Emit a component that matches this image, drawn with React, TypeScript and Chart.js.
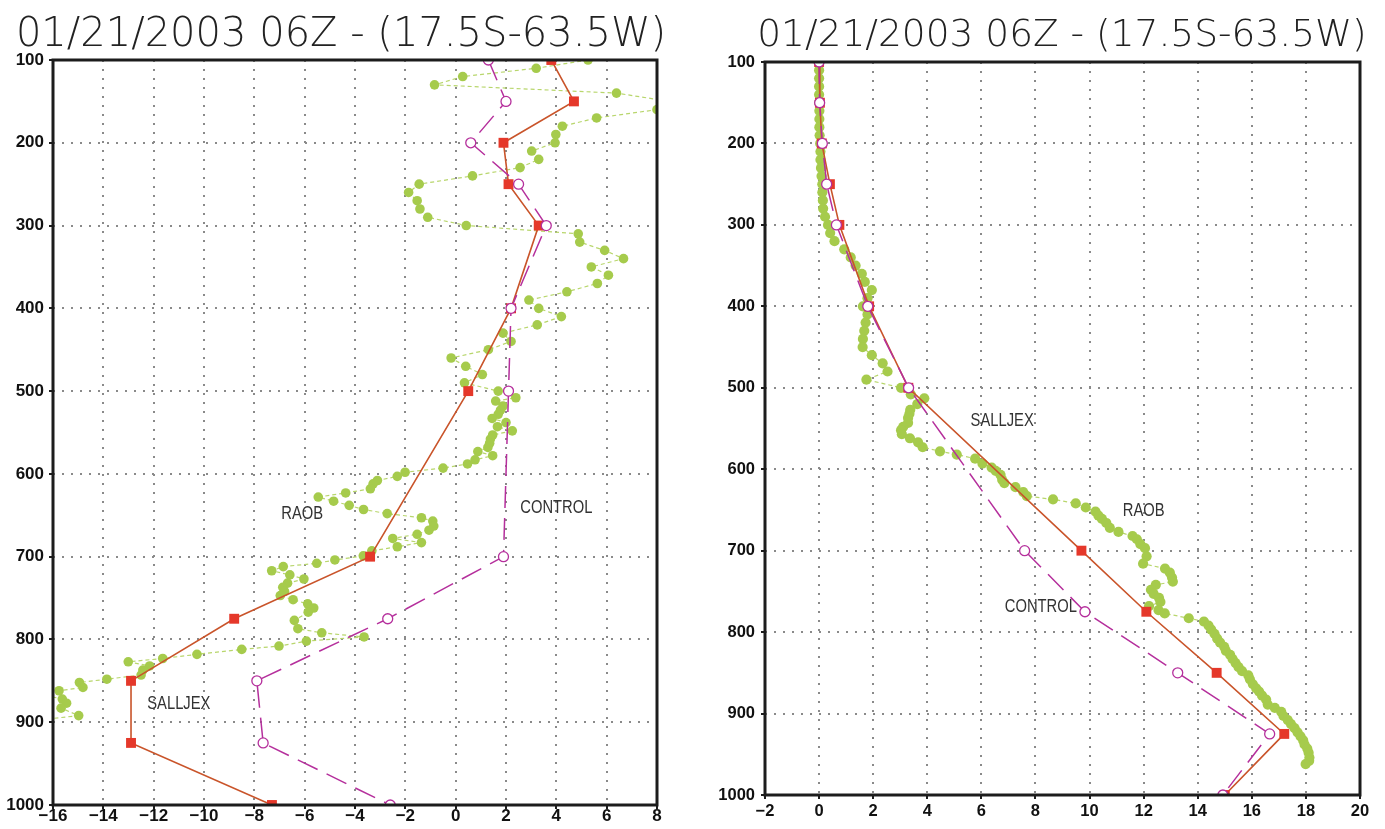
import React, { useEffect, useRef } from 'react';
import { Chart, registerables } from 'chart.js';

Chart.register(...registerables);

// ---------------- data ----------------
const titleText = '01/21/2003 06Z - (17.5S-63.5W)';

const pressureLevels = [100, 150, 200, 250, 300, 400, 500, 700, 775, 850, 925, 1000];

// left panel
const leftSalljex = [3.8, 4.7, 1.9, 2.1, 3.3, 2.2, 0.5, -3.4, -8.8, -12.9, -12.9, -7.3];
const leftControl = [1.3, 2.0, 0.6, 2.5, 3.6, 2.2, 2.1, 1.9, -2.7, -7.9, -7.65, -2.6];
const leftRaob: [number, number][] = [
  [100, 5.26], [110, 3.2], [120, 0.28], [130, -0.84], [140, 6.39], [150, 8.5], [160, 8.0], [170, 5.6],
  [180, 4.24], [190, 3.98], [200, 3.95], [210, 3.02], [220, 3.3], [230, 2.56], [240, 0.67], [250, -1.45],
  [260, -1.87], [270, -1.53], [280, -1.42], [290, -1.11], [300, 0.42], [310, 4.87], [320, 4.93], [330, 5.92],
  [340, 6.67], [350, 5.39], [360, 6.07], [370, 5.63], [380, 4.42], [390, 2.91], [400, 3.3], [410, 4.2],
  [420, 3.24], [430, 1.88], [440, 2.2], [450, 1.3], [460, -0.18], [470, 0.4], [480, 1.06], [490, 0.35],
  [500, 1.69], [508, 2.39], [512, 1.59], [518, 1.88], [523, 1.78], [528, 1.69], [533, 1.45], [538, 2.0],
  [543, 1.66], [548, 2.25], [553, 1.47], [558, 1.38], [563, 1.35], [568, 1.28], [573, 0.88], [578, 1.47],
  [583, 0.77], [588, 0.47], [593, -0.5], [598, -2.01], [603, -2.32], [608, -3.11], [612, -3.28], [618, -3.39],
  [623, -4.37], [628, -5.46], [633, -4.85], [638, -4.23], [643, -3.66], [648, -2.72], [653, -1.36], [657, -0.91],
  [663, -0.87], [668, -1.06], [673, -1.53], [678, -2.5], [683, -1.36], [688, -2.32], [693, -3.33], [699, -3.67],
  [704, -4.8], [708, -5.52], [712, -6.85], [717, -7.31], [722, -6.59], [727, -6.03], [732, -6.68], [737, -6.87],
  [742, -6.8], [747, -6.97], [752, -6.46], [757, -5.88], [762, -5.64], [767, -5.86], [777, -6.41], [787, -6.27],
  [792, -5.32], [797, -3.64], [802, -5.93], [808, -7.02], [812, -8.5], [818, -10.28], [823, -11.64], [827, -13.01],
  [832, -12.16], [837, -12.43], [843, -12.5], [848, -13.86], [852, -14.95], [858, -14.81], [862, -15.76], [867, -16.4],
  [872, -15.63], [877, -15.46], [883, -15.68], [892, -14.98], [898, -16.8], [915, -16.3], [935, -16.5], [950, -17.5],
];
const leftXTicks = { min: -16, max: 8, step: 2 };
const leftLabels = [
  { text: 'RAOB', x: -6.1, y: 648 },
  { text: 'CONTROL', x: 4.0, y: 641 },
  { text: 'SALLJEX', x: -11.0, y: 878 },
];

// right panel
const rightSalljex = [0.0, 0.03, 0.1, 0.4, 0.75, 1.85, 3.3, 9.7, 12.1, 14.7, 17.2, 15.0];
const rightControl = [0.0, 0.02, 0.12, 0.28, 0.64, 1.8, 3.31, 7.6, 9.83, 13.26, 16.66, 14.93];
const rightRaob: [number, number][] = [
  [100, 0], [110, 0], [120, 0], [130, 0], [140, 0], [150, 0], [160, 0.01], [170, 0.01], [180, 0.01], [190, 0.02],
  [200, 0.04], [210, 0.05], [220, 0.05], [230, 0.07], [240, 0.09], [250, 0.12], [260, 0.12], [270, 0.14],
  [280, 0.15], [290, 0.22], [300, 0.33], [310, 0.41], [320, 0.57], [330, 0.93], [340, 1.17], [350, 1.35],
  [360, 1.58], [370, 1.69], [380, 1.95], [390, 1.79], [400, 1.62], [410, 1.79], [420, 1.72], [430, 1.67],
  [440, 1.62], [450, 1.61], [460, 1.95], [470, 2.35], [480, 2.53], [490, 1.75], [500, 3.03], [508, 3.39],
  [513, 3.89], [520, 3.63], [527, 3.37], [532, 3.34], [537, 3.29], [543, 3.29], [548, 3.11], [552, 3.03],
  [557, 3.06], [562, 3.36], [567, 3.66], [573, 3.83], [578, 4.47], [582, 5.09], [587, 5.77], [593, 6.04],
  [598, 6.38], [602, 6.53], [607, 6.71], [613, 6.77], [617, 6.85], [622, 7.26], [628, 7.55], [633, 7.68],
  [637, 8.65], [642, 9.49], [647, 9.86], [652, 10.22], [657, 10.33], [661, 10.46], [666, 10.62], [672, 10.75],
  [677, 11.07], [682, 11.59], [686, 11.75], [692, 11.88], [697, 12.05], [707, 12.11], [716, 11.98], [722, 12.79],
  [727, 12.97], [733, 13.05], [738, 13.08], [742, 12.45], [748, 12.27], [753, 12.37], [758, 12.57], [763, 12.62],
  [768, 12.2], [773, 12.55], [777, 12.78], [783, 13.67], [787, 14.23], [792, 14.4], [797, 14.5], [802, 14.62],
  [808, 14.72], [813, 14.83], [818, 14.98], [823, 15.04], [828, 15.2], [833, 15.29], [838, 15.4], [843, 15.51],
  [848, 15.64], [853, 15.87], [858, 15.93], [864, 16.04], [869, 16.16], [873, 16.27], [878, 16.38], [883, 16.53],
  [889, 16.59], [893, 16.85], [898, 17.09], [903, 17.17], [908, 17.33], [913, 17.45], [918, 17.58], [923, 17.69],
  [928, 17.8], [933, 17.9], [938, 17.95], [943, 18.05], [948, 18.1], [954, 18.13], [958, 18.12], [962, 17.99],
];
const rightXTicks = { min: -2, max: 20, step: 2 };
const rightLabels = [
  { text: 'SALLJEX', x: 6.77, y: 541 },
  { text: 'RAOB', x: 12.0, y: 651 },
  { text: 'CONTROL', x: 8.2, y: 769 },
];

const yTicks = { min: 100, max: 1000, step: 100 };

// ---------------- styles ----------------
const GREEN_PT = '#a6cb4c';
const GREEN_LN = '#b8d66c';
const RED_PT = '#e5382a';
const RED_LN = '#c9542a';
const MAGENTA = '#b52f9c';
const TICK_FONT = "'Liberation Sans', Arial, sans-serif";
const LABEL_FONT = "18px 'Liberation Sans', Arial, sans-serif";

type Panel = {
  salljex: number[];
  control: number[];
  raob: [number, number][];
  xr: { min: number; max: number; step: number };
  labels: { text: string; x: number; y: number }[];
  canvasW: number;
  pad: { top: number; right: number; bottom: number; left: number };
  yWidth: number;
  xHeight: number;
  yPad: number;
  xPad: number;
  dotR: number;
  tickSize: number;
};

function makeConfig(p: Panel): any {
  const framePlugin = {
    id: 'frame',
    afterDraw(chart: any) {
      const { ctx, chartArea: a } = chart;
      ctx.save();
      ctx.strokeStyle = '#1c1c1c';
      ctx.lineWidth = 3;
      ctx.strokeRect(a.left, a.top, a.right - a.left, a.bottom - a.top);
      ctx.restore();
    },
  };
  const labelPlugin = {
    id: 'profileLabels',
    afterDatasetsDraw(chart: any) {
      const { ctx } = chart;
      const xs = chart.scales.x;
      const ys = chart.scales.y;
      p.labels.forEach((l) => {
        const px = xs.getPixelForValue(l.x);
        const py = ys.getPixelForValue(l.y);
        ctx.save();
        ctx.translate(px, py);
        ctx.scale(0.82, 1);
        ctx.font = LABEL_FONT;
        ctx.fillStyle = '#333333';
        ctx.textAlign = 'center';
        ctx.textBaseline = 'middle';
        ctx.fillText(l.text, 0, 0);
        ctx.restore();
      });
    },
  };
  const grid = {
    color: '#8a8a8a',
    lineWidth: 2,
    drawTicks: true,
    tickLength: 4,
    tickColor: '#1c1c1c',
    tickWidth: 2,
  };
  const border = { display: false, dash: [2, 7] };
  return {
    type: 'scatter',
    data: {
      datasets: [
        {
          label: 'CONTROL',
          data: pressureLevels.map((pr, i) => ({ x: p.control[i], y: pr })),
          showLine: true,
          borderColor: MAGENTA,
          borderWidth: 1.5,
          borderDash: [22, 10],
          pointStyle: 'circle',
          pointRadius: 5,
          pointBackgroundColor: '#ffffff',
          pointBorderColor: MAGENTA,
          pointBorderWidth: 1.3,
          order: 0,
        },
        {
          label: 'SALLJEX',
          data: pressureLevels.map((pr, i) => ({ x: p.salljex[i], y: pr })),
          showLine: true,
          borderColor: RED_LN,
          borderWidth: 1.6,
          pointStyle: 'rect',
          pointRadius: 7,
          pointBackgroundColor: RED_PT,
          pointBorderColor: RED_PT,
          pointBorderWidth: 0,
          order: 1,
        },
        {
          label: 'RAOB',
          data: p.raob.map(([pr, v]) => ({ x: v, y: pr })),
          showLine: true,
          borderColor: GREEN_LN,
          borderWidth: 1.2,
          borderDash: [4, 3],
          pointStyle: 'circle',
          pointRadius: p.dotR,
          pointBackgroundColor: GREEN_PT,
          pointBorderWidth: 0,
          order: 2,
        },
      ],
    },
    options: {
      animation: false,
      responsive: false,
      maintainAspectRatio: false,
      events: [],
      layout: { padding: p.pad },
      plugins: { legend: { display: false }, tooltip: { enabled: false }, title: { display: false } },
      scales: {
        x: {
          type: 'linear',
          min: p.xr.min,
          max: p.xr.max,
          ticks: {
            stepSize: p.xr.step,
            color: '#111',
            padding: p.xPad,
            maxRotation: 0,
            font: { family: TICK_FONT, size: p.tickSize, weight: 'bold' },
            callback: (v: number) => String(v).replace('-', '\u2212'),
          },
          grid,
          border,
          afterFit: (s: any) => {
            s.height = p.xHeight;
          },
        },
        y: {
          type: 'linear',
          reverse: true,
          min: yTicks.min,
          max: yTicks.max,
          ticks: {
            stepSize: yTicks.step,
            color: '#111',
            padding: p.yPad,
            font: { family: TICK_FONT, size: p.tickSize, weight: 'bold' },
            callback: (v: number) => String(v),
          },
          grid,
          border,
          afterFit: (s: any) => {
            s.width = p.yWidth;
          },
        },
      },
    },
    plugins: [framePlugin, labelPlugin],
  };
}

const leftPanel: Panel = {
  salljex: leftSalljex,
  control: leftControl,
  raob: leftRaob,
  xr: leftXTicks,
  labels: leftLabels,
  canvasW: 700,
  pad: { top: 60, right: 43, bottom: 0, left: 0 },
  yWidth: 53,
  xHeight: 24,
  yPad: 5,
  xPad: -3,
  dotR: 4.8,
  tickSize: 17,
};

const rightPanel: Panel = {
  salljex: rightSalljex,
  control: rightControl,
  raob: rightRaob,
  xr: rightXTicks,
  labels: rightLabels,
  canvasW: 685,
  pad: { top: 62, right: 25, bottom: 10, left: 0 },
  yWidth: 65,
  xHeight: 24,
  yPad: 6,
  xPad: 3,
  dotR: 5.1,
  tickSize: 16.5,
};

function ProfileChart({ panel, left }: { panel: Panel; left: number }) {
  const ref = useRef<HTMLCanvasElement | null>(null);
  useEffect(() => {
    if (!ref.current) return;
    const chart = new Chart(ref.current, makeConfig(panel));
    return () => chart.destroy();
  }, [panel]);
  return (
    <canvas
      ref={ref}
      width={panel.canvasW}
      height={829}
      style={{ position: 'absolute', left, top: 0, width: panel.canvasW, height: 829 }}
    />
  );
}

const titleStyle: React.CSSProperties = {
  position: 'absolute',
  top: 12,
  height: 40,
  lineHeight: '40px',
  fontFamily: "'DejaVu Sans', sans-serif",
  fontWeight: 200,
  color: '#222',
  whiteSpace: 'nowrap',
  textAlign: 'center',
};

export default function App() {
  return (
    <div
      style={{
        position: 'fixed',
        left: 0,
        top: 0,
        width: 1385,
        height: 829,
        background: '#ffffff',
        overflow: 'hidden',
      }}
    >
      <ProfileChart panel={leftPanel} left={0} />
      <ProfileChart panel={rightPanel} left={700} />
      <div style={{ ...titleStyle, left: 0, width: 682, fontSize: 40 }}>{titleText}</div>
      <div style={{ ...titleStyle, left: 712, width: 700, fontSize: 37.5, top: 13 }}>{titleText}</div>
    </div>
  );
}
